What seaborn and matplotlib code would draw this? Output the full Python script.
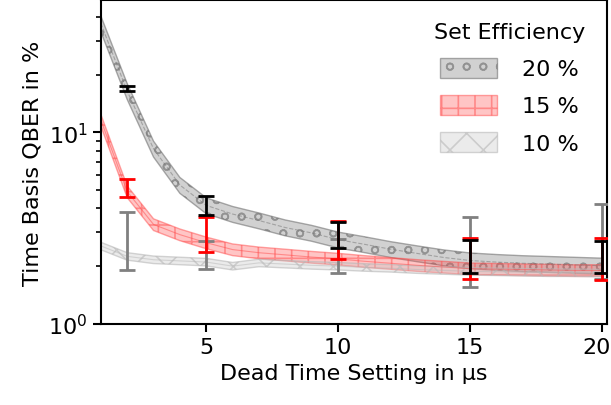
import numpy as np
import pandas as pd
import matplotlib
matplotlib.use("Agg")
import matplotlib.pyplot as plt
import matplotlib.patches as mpatches
import matplotlib.transforms as mtransforms
import seaborn as sns

# ---- data ----
dead_time = [1, 2, 3, 4, 5, 6, 7, 8, 9, 10, 11, 12, 13, 14, 15, 16, 17, 18, 19, 20]
sim_20 = [37.0, 16.4, 8.2, 5.3, 4.15, 3.74, 3.46, 3.18, 2.98, 2.75, 2.6, 2.45, 2.33, 2.22, 2.14, 2.1, 2.07, 2.05, 2.03, 2.01]
sim_15 = [11.6, 4.9, 3.3, 2.92, 2.65, 2.44, 2.35, 2.29, 2.23, 2.18, 2.12, 2.07, 2.02, 1.98, 1.94, 1.93, 1.92, 1.91, 1.9, 1.9]
sim_10 = [2.55, 2.25, 2.16, 2.13, 2.1, 2.0, 2.08, 2.05, 2.02, 2.0, 1.97, 1.95, 1.92, 1.9, 1.88, 1.87, 1.86, 1.85, 1.85, 1.84]
spread_20 = 0.095
spread_15 = 0.07
spread_10 = 0.045

meas_x = [2, 5, 10, 15, 20]
meas_20_lo = [16.5, 3.69, 2.49, 1.84, 1.84]
meas_20_hi = [17.5, 4.64, 3.41, 2.75, 2.70]
meas_15_lo = [4.61, 2.36, 2.18, 1.72, 1.70]
meas_15_hi = [5.72, 3.60, 3.44, 2.80, 2.81]
meas_10_lo = [1.90, 1.93, 1.84, 1.55, 1.72]
meas_10_hi = [3.84, 2.69, 2.78, 3.62, 4.20]

labels = ["20 %", "15 %", "10 %"]
legend_title = "Set Efficiency"

# ---- style ----
sns.set_theme(style="ticks")
plt.rcParams["font.family"] = ["DejaVu Sans"]
plt.rcParams["hatch.linewidth"] = 1.2
for k in ["text.color", "axes.labelcolor", "xtick.color", "ytick.color", "axes.edgecolor"]:
    plt.rcParams[k] = "black"

FS = 16

fig = plt.figure(figsize=(6.11, 4.06), dpi=100)
ax = fig.add_axes([0.165, 0.2, 0.8285, 0.7975])

series = [
    (sim_20, spread_20, (0.55, 0.55, 0.55, 0.4), (0.45, 0.45, 0.45, 0.6), "o", "--"),
    (sim_15, spread_15, (1.0, 0.25, 0.25, 0.3), (1.0, 0.3, 0.3, 0.5), "+", "-"),
    (sim_10, spread_10, (0.78, 0.78, 0.78, 0.35), (0.72, 0.72, 0.72, 0.6), "x", "-"),
]
x = np.array(dead_time, dtype=float)
handles = []
for (vals, sp, fc, ec, hatch, ls), lab in zip(series, labels):
    v = np.array(vals)
    ax.fill_between(x, v * (1 - sp), v * (1 + sp), facecolor=fc, edgecolor=ec,
                    hatch=hatch, linewidth=1.0)
    df = pd.DataFrame({"x": x, "y": v})
    sns.lineplot(data=df, x="x", y="y", ax=ax, color=ec, lw=0.8, ls=ls, alpha=0.5)
    handles.append(mpatches.Patch(facecolor=fc, edgecolor=ec, hatch=hatch, label=lab))

meas = [
    (meas_20_lo, meas_20_hi, "black"),
    (meas_15_lo, meas_15_hi, "red"),
    (meas_10_lo, meas_10_hi, "gray"),
]
for lo, hi, col in meas[::-1]:
    lo = np.array(lo); hi = np.array(hi)
    c = (lo + hi) / 2
    ax.errorbar(meas_x, c, yerr=[c - lo, hi - c], fmt="none", ecolor=col,
                elinewidth=2, capsize=6, capthick=2, zorder=5 if col != "gray" else 4)

ax.set_yscale("log")
ax.set_xlim(1, 20.2)
ax.set_ylim(1, 49)
ax.set_xticks([5, 10, 15, 20])
ax.set_xlabel("Dead Time Setting in µs", fontsize=FS)
ax.set_ylabel("Time Basis QBER in %", fontsize=FS)
ax.tick_params(axis="both", which="major", labelsize=FS, length=6, width=1.5, direction="out")
ax.tick_params(axis="y", which="minor", length=3.5, width=1.2)
for s in ax.spines.values():
    s.set_visible(True)
    s.set_linewidth(1.5)

# nudge the last x tick label so it stays inside the figure
last = ax.get_xticklabels()[-1]
last.set_transform(last.get_transform() + mtransforms.ScaledTranslation(-5 / 100, 0, fig.dpi_scale_trans))

leg = ax.legend(handles=handles, title=legend_title, frameon=False, loc="upper right",
                fontsize=FS, title_fontsize=FS, handlelength=2.6, handleheight=1.0,
                handletextpad=1.1, borderaxespad=0.6, labelspacing=0.7)

fig.savefig("out.png", dpi=100)
